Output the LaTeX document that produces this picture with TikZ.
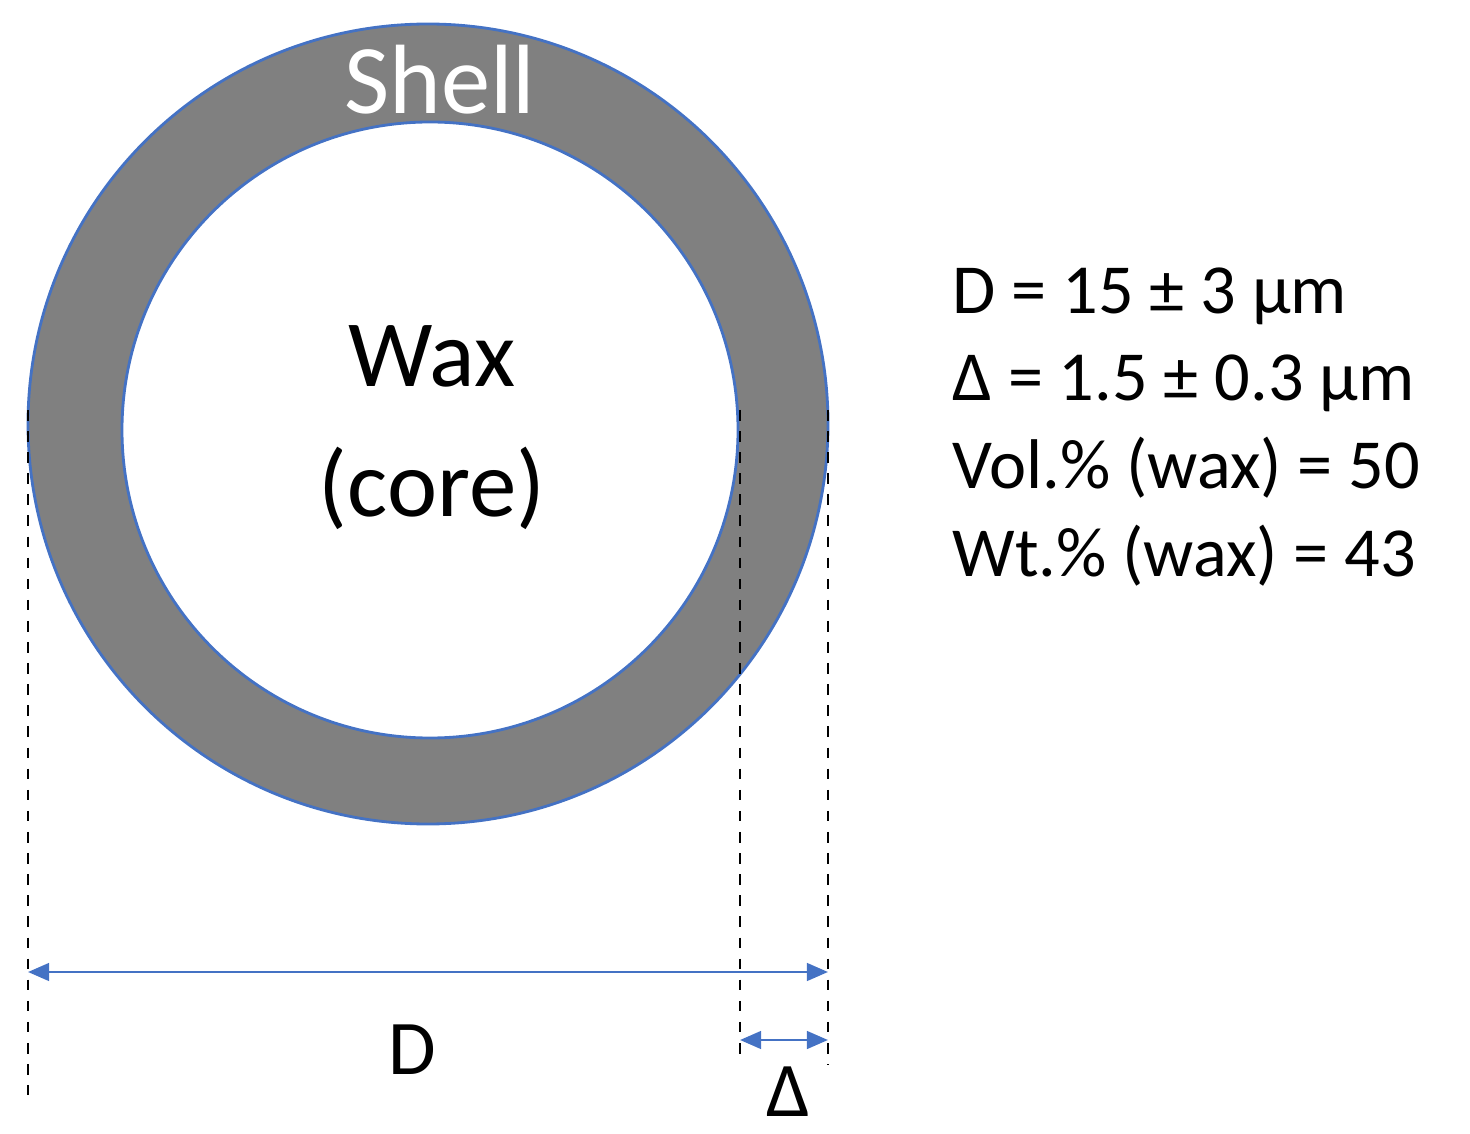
\documentclass[tikz,border=0pt]{standalone}
\usepackage{fontspec}
\setmainfont{Carlito}
\usetikzlibrary{arrows.meta}
\begin{document}
\begin{tikzpicture}[x=0.01cm,y=-0.01cm]
        %colores
        \colorlet{shellgray}{black!50}
        \definecolor{bblue}{RGB}{68,114,196}
        \tikzset{dim/.style={bblue,thick,{Triangle[width=5pt,length=6pt]}-{Triangle[width=5pt,length=6pt]}},
                 guide/.style={dashed,thick}}

        \useasboundingbox (0,0) rectangle (1470,1134);
        % Capsula
        \fill[shellgray,even odd rule] (428,424) circle (400) (430,430) circle (308);
        \draw[bblue,thick] (428,424) circle (400);
        \draw[bblue,thick] (430,430) circle (308);

        % Textos
        \node[white,font=\fontsize{28}{30}\selectfont] (shell) at (440,80) {Shell};
        \node[align=center,font=\fontsize{27}{37}\selectfont] (core) at (432,428) {Wax\\(core)};

        % Lineas guia
        \coordinate (gl1) at (28,410);  \coordinate (gl2) at (28,1095);
        \coordinate (gm1) at (740,410); \coordinate (gm2) at (740,1058);
        \coordinate (gr1) at (828,410); \coordinate (gr2) at (828,1065);
        \draw[guide] (gl1) -- (gl2) (gm1) -- (gm2) (gr1) -- (gr2);

        % Cotas
        \coordinate (dA) at (28,972);  \coordinate (dB) at (828,972);
        \coordinate (eA) at (740,1040); \coordinate (eB) at (828,1040);
        \draw[dim] (dA) -- (dB);
        \draw[dim] (eA) -- (eB);
        \node[font=\fontsize{22}{24}\selectfont] (dlabel) at (412,1050) {D};
        \node[font=\fontsize{22}{24}\selectfont] (elabel) at (788,1092) {Δ};

        % Datos
        \node[anchor=north west,align=left,font=\fontsize{20}{25}\selectfont] (data) at (940,255)
            {D = 15 ± 3 µm\\Δ = 1.5 ± 0.3 µm\\Vol.\% (wax) = 50\\Wt.\% (wax) = 43};
    \end{tikzpicture}
\end{document}
